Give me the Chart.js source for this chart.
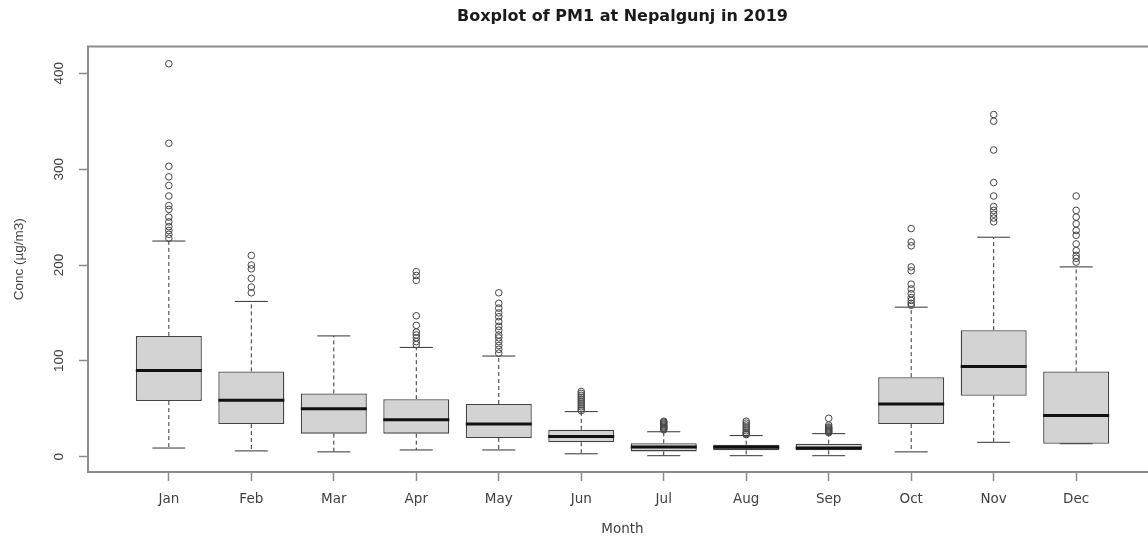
<!DOCTYPE html>
<html>
<head>
<meta charset="utf-8">
<script src="https://cdn.jsdelivr.net/npm/chart.js@4.4.0/dist/chart.umd.min.js"></script>
<style>
  html, body { margin: 0; padding: 0; background: #fff; overflow: hidden; }
  #wrap { width: 1164px; height: 542px; }
</style>
</head>
<body>
<div id="wrap"><canvas id="boxChart"></canvas></div>
<script>
// monthly PM1 box stats (ug/m3)
const months = ['Jan', 'Feb', 'Mar', 'Apr', 'May', 'Jun', 'Jul', 'Aug', 'Sep', 'Oct', 'Nov', 'Dec'];
const whiskerLow = [9, 6, 5, 7, 7, 3, 1, 1, 1, 5, 15, 13.5];
const q1 = [58, 34, 24, 24, 19.5, 15, 5.5, 6.6, 6.6, 34, 63.5, 13.5];
const median = [90, 59, 50, 38.5, 34, 21, 10, 9.7, 9, 55, 94, 43];
const q3 = [126, 89, 66, 60, 55, 28, 14, 12.5, 13.5, 83, 132, 89];
const whiskerHigh = [225, 162, 126, 114, 105, 47, 26, 22, 24, 156, 229, 198];
const outliers = [
  [410, 327, 303, 292, 283, 272, 262, 258, 250, 245, 240, 236, 232, 228],
  [210, 200, 196, 186, 177, 171],
  [],
  [193, 189, 184, 147, 137, 130, 127, 124, 120, 117],
  [171, 160, 155, 150, 146, 141, 136, 132, 127, 124, 120, 116, 112, 108],
  [68, 66, 64, 62, 60, 58, 56, 54, 52, 50, 48],
  [37, 36, 35, 34, 33, 32, 31, 30, 29, 28],
  [37, 35, 33, 31, 29, 27, 25, 24, 23],
  [40, 33, 31, 30, 29, 28, 27, 26, 25],
  [238, 224, 220, 198, 194, 180, 175, 170, 166, 163, 160, 158],
  [357, 350, 320, 286, 272, 261, 257, 253, 249, 245],
  [272, 257, 250, 243, 236, 231, 222, 215, 210, 207, 203]
];
const yTicks = [0, 100, 200, 300, 400];

const frameColor = '#8c8c8c';
const textColor = '#404040';

// whiskers + caps under the boxes, medians and frame on top
const boxParts = {
  id: 'boxParts',
  beforeDatasetsDraw(chart) {
    const { ctx, scales: { x, y } } = chart;
    const bars = chart.getDatasetMeta(0).data;
    ctx.save();
    ctx.strokeStyle = '#333';
    ctx.lineWidth = 1;
    months.forEach((m, i) => {
      const cx = x.getPixelForValue(i + 1);
      const half = bars[i].width / 4;
      ctx.setLineDash([4, 3]);
      ctx.beginPath();
      ctx.moveTo(cx, y.getPixelForValue(q3[i]));
      ctx.lineTo(cx, y.getPixelForValue(whiskerHigh[i]));
      ctx.moveTo(cx, y.getPixelForValue(q1[i]));
      ctx.lineTo(cx, y.getPixelForValue(whiskerLow[i]));
      ctx.stroke();
      ctx.setLineDash([]);
      ctx.beginPath();
      [whiskerHigh[i], whiskerLow[i]].forEach(v => {
        const py = y.getPixelForValue(v);
        ctx.moveTo(cx - half, py);
        ctx.lineTo(cx + half, py);
      });
      ctx.stroke();
    });
    ctx.restore();
  },
  afterDatasetsDraw(chart) {
    const { ctx, chartArea: a, scales: { y } } = chart;
    const bars = chart.getDatasetMeta(0).data;
    ctx.save();
    ctx.strokeStyle = '#111';
    ctx.lineWidth = 3;
    bars.forEach((b, i) => {
      const py = y.getPixelForValue(median[i]);
      ctx.beginPath();
      ctx.moveTo(b.x - b.width / 2, py);
      ctx.lineTo(b.x + b.width / 2, py);
      ctx.stroke();
    });
    ctx.strokeStyle = frameColor;
    ctx.lineWidth = 2;
    ctx.strokeRect(a.left, a.top, a.right - a.left, a.bottom - a.top);
    ctx.restore();
  }
};

const boxData = months.map((m, i) => ({ x: i + 1, y: [q1[i], q3[i]] }));
const outlierData = outliers.flatMap((vals, i) => vals.map(v => ({ x: i + 1, y: v })));

new Chart(document.getElementById('boxChart'), {
  type: 'bar',
  data: {
    datasets: [
      {
        data: boxData,
        backgroundColor: '#d3d3d3',
        borderColor: '#444',
        borderWidth: 1.3,
        borderSkipped: false,
        barPercentage: 0.8,
        categoryPercentage: 1,
        order: 1
      },
      {
        type: 'scatter',
        data: outlierData,
        pointStyle: 'circle',
        pointRadius: 3.3,
        pointBorderWidth: 1,
        borderColor: '#444',
        backgroundColor: 'rgba(0,0,0,0)',
        order: 0
      }
    ]
  },
  options: {
    responsive: true,
    maintainAspectRatio: false,
    animation: false,
    layout: { padding: { left: 0, right: 7, top: 0, bottom: 0 } },
    plugins: {
      legend: { display: false },
      tooltip: { enabled: false },
      title: {
        display: true,
        fullSize: false,
        text: 'Boxplot of PM1 at Nepalgunj in 2019',
        color: '#1a1a1a',
        font: { family: 'DejaVu Sans', size: 16, weight: 'bold' },
        padding: { top: 7, bottom: 20.3 }
      }
    },
    scales: {
      x: {
        type: 'linear',
        min: 0.02,
        max: 12.98,
        offset: false,
        afterBuildTicks: s => { s.ticks = months.map((m, i) => ({ value: i + 1 })); },
        afterFit: s => { s.height = 70; },
        grid: { display: true, offset: false, drawOnChartArea: false, drawTicks: true, tickLength: 9, tickColor: frameColor, tickWidth: 1.5 },
        border: { display: false },
        ticks: {
          callback: (v, i) => months[i],
          padding: 10,
          maxRotation: 0,
          color: textColor,
          font: { family: 'DejaVu Sans', size: 13.5 }
        },
        title: {
          display: true,
          text: 'Month',
          color: textColor,
          font: { family: 'DejaVu Sans', size: 13.5 },
          padding: { top: 0, bottom: 4 }
        }
      },
      y: {
        min: -16,
        max: 428,
        afterBuildTicks: s => { s.ticks = yTicks.map(v => ({ value: v })); },
        afterFit: s => { s.width = 88; },
        grid: { display: true, drawOnChartArea: false, drawTicks: true, tickLength: 9, tickColor: frameColor, tickWidth: 1.5 },
        border: { display: false },
        ticks: {
          minRotation: 90,
          maxRotation: 90,
          crossAlign: 'center',
          padding: 8,
          color: textColor,
          font: { family: 'Liberation Sans', size: 13.5 }
        },
        title: {
          display: true,
          text: 'Conc (µg/m3)',
          color: textColor,
          font: { family: 'Liberation Sans', size: 13.5 },
          padding: { top: 11, bottom: 0 }
        }
      }
    }
  },
  plugins: [boxParts]
});
</script>
</body>
</html>
